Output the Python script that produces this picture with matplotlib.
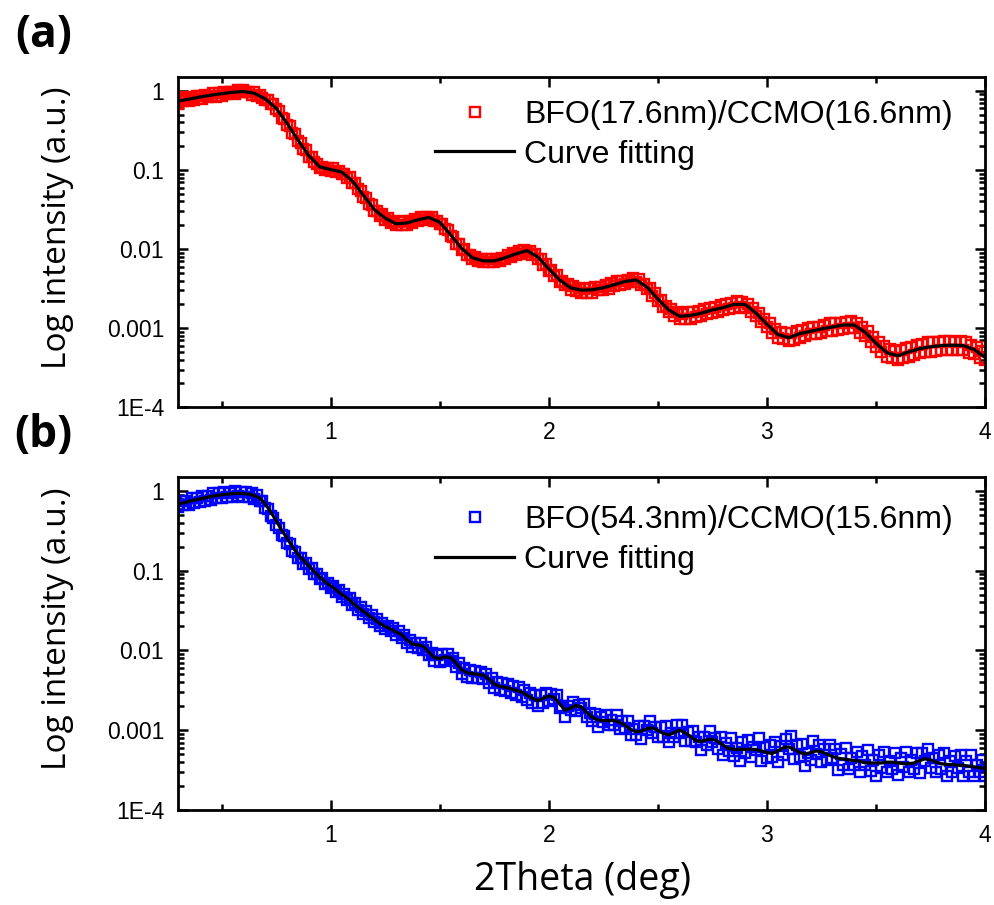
import numpy as np
import matplotlib
matplotlib.use("Agg")
import matplotlib.pyplot as plt
from matplotlib.ticker import LogLocator, NullFormatter, MultipleLocator

# ---- data (log10 of intensity) ----
# panel (a): BFO(17.6nm)/CCMO(16.6nm), measured points every 0.0125 deg, 0.3 .. 4.0
meas_a_log = [
    -0.16, -0.10, -0.13, -0.08, -0.13, -0.09, -0.12, -0.07,
    -0.07, -0.10, -0.05, -0.08, -0.07, -0.03, -0.08, -0.03,
    -0.06, -0.01, -0.04, -0.01, -0.01, -0.04, 0.01, -0.02,
    0.01, -0.02, -0.01, -0.05, -0.02, -0.07, -0.05, -0.09,
    -0.12, -0.11, -0.17, -0.17, -0.23, -0.25, -0.34, -0.35,
    -0.43, -0.44, -0.53, -0.55, -0.64, -0.66, -0.74, -0.75,
    -0.84, -0.84, -0.90, -0.92, -0.98, -0.96, -1.00, -0.97,
    -1.01, -0.98, -1.03, -1.01, -1.05, -1.05, -1.10, -1.09,
    -1.16, -1.17, -1.24, -1.27, -1.34, -1.35, -1.43, -1.44,
    -1.52, -1.52, -1.58, -1.56, -1.63, -1.61, -1.67, -1.65,
    -1.70, -1.66, -1.69, -1.65, -1.69, -1.65, -1.67, -1.62,
    -1.65, -1.60, -1.63, -1.60, -1.62, -1.60, -1.65, -1.64,
    -1.68, -1.68, -1.75, -1.76, -1.84, -1.85, -1.93, -1.93,
    -2.01, -2.00, -2.07, -2.07, -2.13, -2.10, -2.15, -2.12,
    -2.17, -2.13, -2.16, -2.13, -2.17, -2.12, -2.15, -2.11,
    -2.13, -2.08, -2.10, -2.05, -2.08, -2.03, -2.06, -2.01,
    -2.04, -2.02, -2.08, -2.06, -2.12, -2.12, -2.20, -2.19,
    -2.28, -2.27, -2.34, -2.33, -2.42, -2.40, -2.46, -2.44,
    -2.52, -2.47, -2.53, -2.49, -2.55, -2.50, -2.55, -2.49,
    -2.55, -2.48, -2.52, -2.48, -2.52, -2.46, -2.50, -2.43,
    -2.47, -2.41, -2.46, -2.40, -2.44, -2.39, -2.42, -2.37,
    -2.42, -2.38, -2.46, -2.44, -2.51, -2.49, -2.59, -2.56,
    -2.66, -2.64, -2.73, -2.72, -2.80, -2.76, -2.85, -2.80,
    -2.89, -2.82, -2.88, -2.80, -2.88, -2.80, -2.86, -2.78,
    -2.85, -2.76, -2.82, -2.75, -2.81, -2.73, -2.80, -2.71,
    -2.77, -2.69, -2.76, -2.68, -2.74, -2.66, -2.73, -2.67,
    -2.74, -2.69, -2.79, -2.74, -2.85, -2.81, -2.92, -2.89,
    -2.99, -2.93, -3.06, -3.01, -3.13, -3.05, -3.14, -3.06,
    -3.16, -3.06, -3.15, -3.04, -3.12, -3.02, -3.10, -3.00,
    -3.08, -2.98, -3.08, -2.98, -3.06, -2.96, -3.04, -2.94,
    -3.03, -2.93, -3.02, -2.93, -3.01, -2.92, -3.00, -2.91,
    -3.00, -2.93, -3.06, -2.99, -3.10, -3.04, -3.17, -3.11,
    -3.24, -3.17, -3.30, -3.23, -3.36, -3.26, -3.38, -3.29,
    -3.40, -3.28, -3.38, -3.25, -3.36, -3.24, -3.34, -3.21,
    -3.32, -3.20, -3.30, -3.18, -3.30, -3.17, -3.29, -3.17,
    -3.28, -3.16, -3.27, -3.16, -3.28, -3.17, -3.28, -3.16,
    -3.28, -3.17, -3.31, -3.21, -3.33, -3.24, -3.38, -3.29,
    -3.40,
]
# fitted curve (a), every 0.05 deg, 0.3 .. 4.0
fit_a_log = [
    -0.13, -0.105, -0.078, -0.055, -0.036, -0.018, -0.008, -0.03, -0.10, -0.22,
    -0.41, -0.62, -0.82, -0.96, -0.995, -1.025, -1.14, -1.32, -1.50, -1.61,
    -1.68, -1.67, -1.63, -1.60, -1.66, -1.82, -1.99, -2.11, -2.15, -2.15,
    -2.11, -2.06, -2.02, -2.10, -2.25, -2.39, -2.49, -2.52, -2.515, -2.49,
    -2.45, -2.41, -2.39, -2.48, -2.63, -2.77, -2.85, -2.84, -2.81, -2.77,
    -2.74, -2.70, -2.70, -2.81, -2.95, -3.08, -3.12, -3.07, -3.04, -3.01,
    -2.985, -2.96, -2.96, -3.05, -3.19, -3.31, -3.35, -3.30, -3.26, -3.235,
    -3.22, -3.215, -3.22, -3.27, -3.37,
]

# panel (b): BFO(54.3nm)/CCMO(15.6nm), measured points every 0.0125 deg, 0.3 .. 4.0
meas_b_log = [
    -0.20, -0.13, -0.18, -0.12, -0.17, -0.09, -0.15, -0.09,
    -0.14, -0.06, -0.12, -0.06, -0.11, -0.03, -0.09, -0.03,
    -0.09, -0.01, -0.07, -0.02, -0.07, 0.00, -0.06, -0.01,
    -0.07, -0.01, -0.07, -0.03, -0.10, -0.05, -0.13, -0.12,
    -0.21, -0.23, -0.32, -0.34, -0.43, -0.46, -0.55, -0.56,
    -0.65, -0.67, -0.75, -0.76, -0.84, -0.84, -0.91, -0.90,
    -0.98, -0.97, -1.04, -1.04, -1.11, -1.09, -1.17, -1.15,
    -1.22, -1.19, -1.27, -1.24, -1.33, -1.29, -1.37, -1.34,
    -1.43, -1.40, -1.49, -1.46, -1.54, -1.51, -1.59, -1.56,
    -1.64, -1.61, -1.69, -1.65, -1.73, -1.69, -1.76, -1.72,
    -1.81, -1.76, -1.84, -1.81, -1.91, -1.87, -1.96, -1.90,
    -1.97, -1.91, -1.99, -1.96, -2.06, -2.03, -2.13, -2.06,
    -2.14, -2.05, -2.12, -2.05, -2.13, -2.09, -2.21, -2.16,
    -2.29, -2.22, -2.33, -2.25, -2.34, -2.26, -2.35, -2.27,
    -2.36, -2.29, -2.41, -2.34, -2.47, -2.39, -2.50, -2.41,
    -2.51, -2.42, -2.53, -2.44, -2.56, -2.46, -2.58, -2.49,
    -2.62, -2.53, -2.66, -2.56, -2.69, -2.56, -2.66, -2.53,
    -2.63, -2.54, -2.61, -2.56, -2.72, -2.70, -2.83, -2.69,
    -2.75, -2.65, -2.76, -2.68, -2.72, -2.67, -2.84, -2.78,
    -2.88, -2.80, -2.96, -2.84, -2.90, -2.81, -2.94, -2.87,
    -2.93, -2.81, -2.98, -2.89, -2.97, -2.88, -3.06, -2.99,
    -3.06, -2.95, -3.11, -2.95, -3.00, -2.89, -3.03, -2.96,
    -3.08, -2.96, -3.08, -2.95, -3.15, -3.03, -3.08, -2.94,
    -3.03, -2.93, -3.13, -3.02, -3.14, -3.01, -3.15, -3.08,
    -3.25, -3.08, -3.19, -3.01, -3.15, -3.10, -3.24, -3.09,
    -3.31, -3.16, -3.26, -3.10, -3.32, -3.22, -3.39, -3.15,
    -3.29, -3.12, -3.34, -3.21, -3.25, -3.10, -3.39, -3.21,
    -3.35, -3.19, -3.33, -3.15, -3.40, -3.20, -3.31, -3.11,
    -3.23, -3.07, -3.36, -3.19, -3.34, -3.17, -3.45, -3.28,
    -3.37, -3.13, -3.30, -3.19, -3.40, -3.24, -3.37, -3.19,
    -3.35, -3.24, -3.50, -3.30, -3.44, -3.22, -3.48, -3.35,
    -3.43, -3.27, -3.53, -3.32, -3.44, -3.25, -3.51, -3.37,
    -3.57, -3.31, -3.47, -3.27, -3.52, -3.38, -3.48, -3.28,
    -3.56, -3.35, -3.46, -3.27, -3.53, -3.37, -3.48, -3.28,
    -3.54, -3.28, -3.38, -3.23, -3.47, -3.35, -3.53, -3.31,
    -3.48, -3.28, -3.58, -3.38, -3.52, -3.32, -3.47, -3.31,
    -3.58, -3.39, -3.53, -3.31, -3.58, -3.44, -3.53, -3.37,
    -3.58,
]
# fitted curve (b), every 0.025 deg, 0.3 .. 4.0
fit_b_log = [
    -0.165, -0.15, -0.13, -0.115, -0.10, -0.085, -0.07, -0.058, -0.048, -0.04,
    -0.033, -0.03, -0.032, -0.04, -0.058, -0.09, -0.16, -0.26, -0.37, -0.49,
    -0.59, -0.70, -0.79, -0.868, -0.94, -1.01, -1.08, -1.14, -1.19, -1.24,
    -1.295, -1.34, -1.40, -1.46, -1.51, -1.56, -1.61, -1.66, -1.70, -1.73,
    -1.77, -1.80, -1.87, -1.92, -1.93, -1.95, -2.02, -2.09, -2.10, -2.08,
    -2.09, -2.16, -2.24, -2.28, -2.29, -2.30, -2.31, -2.36, -2.42, -2.45,
    -2.46, -2.48, -2.50, -2.52, -2.56, -2.60, -2.63, -2.60, -2.57, -2.59,
    -2.67, -2.75, -2.72, -2.69, -2.71, -2.78, -2.84, -2.87, -2.88, -2.88,
    -2.88, -2.90, -2.94, -2.99, -3.02, -3.01, -2.98, -2.97, -3.00, -3.04,
    -3.06, -3.03, -3.00, -3.03, -3.08, -3.13, -3.14, -3.12, -3.11, -3.14,
    -3.19, -3.23, -3.24, -3.24, -3.24, -3.24, -3.24, -3.26, -3.28, -3.29,
    -3.26, -3.22, -3.21, -3.24, -3.28, -3.30, -3.28, -3.26, -3.27, -3.30,
    -3.33, -3.35, -3.36, -3.37, -3.38, -3.39, -3.41, -3.41, -3.41, -3.41,
    -3.40, -3.40, -3.41, -3.42, -3.42, -3.41, -3.38, -3.36, -3.37, -3.40,
    -3.42, -3.43, -3.43, -3.44, -3.44, -3.45, -3.46, -3.47, -3.48,
]

labels_meas = ["BFO(17.6nm)/CCMO(16.6nm)", "BFO(54.3nm)/CCMO(15.6nm)"]
ytick_vals = [1e-4, 1e-3, 1e-2, 1e-1, 1]
ytick_text = ["1E-4", "0.001", "0.01", "0.1", "1"]
xtick_vals = [1, 2, 3, 4]

# 2theta grids of the scans
tt_meas_a = np.linspace(0.30, 4.00, len(meas_a_log))
tt_fit_a = np.linspace(0.30, 4.00, len(fit_a_log))
tt_meas_b = np.linspace(0.30, 4.00, len(meas_b_log))
tt_fit_b = np.linspace(0.30, 4.00, len(fit_b_log))

tick_font = "Liberation Sans"
label_font = "Open Sans"

fig = plt.figure(figsize=(9.94, 9.05), dpi=100)
ax_a = fig.add_axes([0.179, 0.550, 0.812, 0.365])
ax_b = fig.add_axes([0.179, 0.105, 0.812, 0.368])

panels = [
    (ax_a, tt_meas_a, meas_a_log, tt_fit_a, fit_a_log, "#ff0000", labels_meas[0], 0.93),
    (ax_b, tt_meas_b, meas_b_log, tt_fit_b, fit_b_log, "#0000ff", labels_meas[1], 0.915),
]

for ax, xm, ym, xf, yf, col, lab, leg_y in panels:
    ax.plot(xm, 10 ** np.array(ym), ls="none", marker="s", ms=7,
            mfc="none", mec=col, mew=1.7, label=lab)
    ax.plot(xf, 10 ** np.array(yf), color="black", lw=2.3, label="Curve fitting")

    ax.set_yscale("log")
    ax.set_xlim(0.3, 4.0)
    ax.set_ylim(1e-4, 1.5)
    ax.set_yticks(ytick_vals)
    ax.set_yticklabels(ytick_text)
    ax.yaxis.set_minor_locator(LogLocator(base=10, subs=np.arange(2, 10), numticks=20))
    ax.yaxis.set_minor_formatter(NullFormatter())
    ax.set_xticks(xtick_vals)
    ax.set_xticklabels([str(v) for v in xtick_vals])
    ax.xaxis.set_minor_locator(MultipleLocator(0.5))

    ax.tick_params(which="both", direction="in", top=True, right=True, width=1.8)
    ax.tick_params(which="major", length=7, pad=10, labelsize=16.5)
    ax.tick_params(which="minor", length=4)
    for t in ax.get_xticklabels() + ax.get_yticklabels():
        t.set_fontfamily(tick_font)
    for s in ax.spines.values():
        s.set_linewidth(2.0)

    ax.legend(loc="upper left", bbox_to_anchor=(0.318, leg_y), frameon=False,
              numpoints=1, handlelength=2.5, handletextpad=0.3,
              labelspacing=0.3, borderpad=0, borderaxespad=0,
              prop={"family": tick_font, "size": 23})

for ycen in (0.748, 0.305):
    fig.text(0.058, ycen, "Log intensity (a.u.)", rotation=90, ha="center",
             va="center", fontsize=24, family=label_font)

fig.text(0.586, 0.028, "2Theta (deg)", ha="center", va="center",
         fontsize=27, family=label_font)
fig.text(0.044, 0.961, "(a)", ha="center", va="center", fontsize=32,
         family=label_font, fontweight="bold")
fig.text(0.044, 0.519, "(b)", ha="center", va="center", fontsize=32,
         family=label_font, fontweight="bold")

fig.savefig("out.png", dpi=100)
